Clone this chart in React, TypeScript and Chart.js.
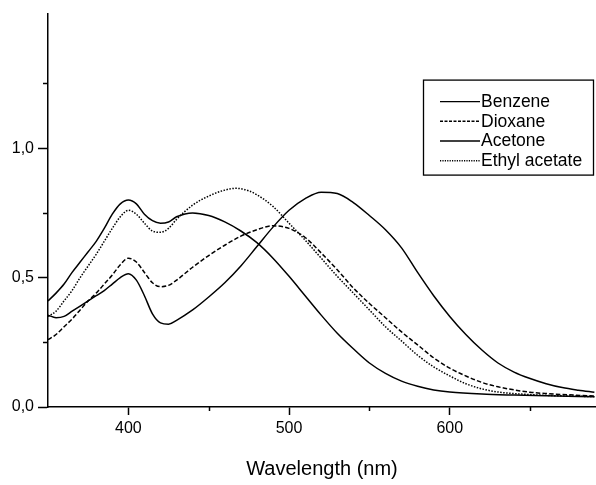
import React, { useEffect, useRef } from 'react';
import { Chart, registerables } from 'chart.js';

Chart.register(...registerables);

// ---- Data (wavelength in nm, absorbance) ----
const benzeneWl = [350, 355, 360, 365, 370, 375, 380, 385, 390, 395, 400, 405, 410, 415, 420, 425, 430, 440, 450, 460, 470, 480, 490, 500, 510, 520, 530, 540, 550, 560, 570, 580, 590, 600, 620, 640, 660, 690];
const benzene = [0.41, 0.44, 0.475, 0.52, 0.56, 0.60, 0.64, 0.69, 0.745, 0.785, 0.80, 0.785, 0.745, 0.72, 0.71, 0.715, 0.735, 0.75, 0.74, 0.715, 0.68, 0.635, 0.575, 0.505, 0.43, 0.355, 0.285, 0.225, 0.17, 0.13, 0.10, 0.08, 0.066, 0.058, 0.05, 0.046, 0.043, 0.04];

const dioxaneWl = [350, 355, 360, 365, 370, 375, 380, 385, 390, 395, 400, 405, 410, 415, 420, 425, 430, 440, 450, 460, 470, 480, 490, 500, 510, 520, 530, 540, 550, 560, 570, 580, 590, 600, 610, 620, 630, 640, 650, 660, 690];
const dioxane = [0.26, 0.28, 0.31, 0.34, 0.375, 0.41, 0.44, 0.475, 0.51, 0.55, 0.575, 0.56, 0.52, 0.48, 0.465, 0.47, 0.49, 0.54, 0.585, 0.625, 0.66, 0.685, 0.70, 0.69, 0.655, 0.595, 0.53, 0.46, 0.40, 0.345, 0.29, 0.24, 0.19, 0.15, 0.12, 0.095, 0.078, 0.066, 0.057, 0.052, 0.042];

const acetoneWl = [350, 355, 360, 365, 370, 375, 380, 385, 390, 395, 400, 405, 410, 415, 420, 425, 430, 440, 450, 460, 470, 480, 490, 500, 510, 520, 530, 540, 550, 560, 570, 580, 590, 600, 610, 620, 630, 640, 650, 660, 670, 680, 690];
const acetone = [0.355, 0.345, 0.35, 0.37, 0.39, 0.41, 0.43, 0.45, 0.475, 0.50, 0.515, 0.49, 0.43, 0.36, 0.325, 0.32, 0.335, 0.375, 0.425, 0.48, 0.545, 0.62, 0.695, 0.76, 0.805, 0.83, 0.825, 0.79, 0.74, 0.685, 0.615, 0.52, 0.43, 0.35, 0.28, 0.22, 0.17, 0.135, 0.11, 0.09, 0.075, 0.065, 0.057];

const ethylWl = [350, 355, 360, 365, 370, 375, 380, 385, 390, 395, 400, 405, 410, 415, 420, 425, 430, 440, 450, 460, 467, 475, 480, 490, 500, 510, 520, 530, 540, 550, 560, 570, 580, 590, 600, 610, 620, 630, 640, 660, 690];
const ethyl = [0.35, 0.37, 0.41, 0.45, 0.50, 0.545, 0.59, 0.64, 0.69, 0.735, 0.76, 0.745, 0.71, 0.68, 0.675, 0.69, 0.725, 0.78, 0.815, 0.838, 0.845, 0.835, 0.82, 0.775, 0.71, 0.645, 0.575, 0.505, 0.44, 0.375, 0.31, 0.255, 0.20, 0.155, 0.12, 0.09, 0.07, 0.058, 0.052, 0.045, 0.04];

const seriesNames = ['Benzene', 'Dioxane', 'Acetone', 'Ethyl acetate'];
const seriesDashes: number[][] = [[], [4.5, 2.2], [], [1.5, 1.5]];
const legendDashes: number[][] = [[], [3, 1.5], [], [1.2, 1.2]];

const xMajorTicks = [400, 500, 600];
const xMinorTicks = [450, 550, 650];
const yMajorTicks = [0, 0.5, 1.0];
const yMinorTicks = [0.25, 0.75, 1.25];

const X_MIN = 350;
const X_MAX = 691;
const Y_MIN = 0;
const Y_MAX = 1.52;

const FONT = "'Liberation Sans', Arial, Helvetica, sans-serif";

const toPoints = (xs: number[], ys: number[]) => xs.map((x, i) => ({ x, y: ys[i] }));

const decorPlugin = {
  id: 'decor',
  afterDraw(chart: any) {
    const ctx = chart.ctx as CanvasRenderingContext2D;
    const xs = chart.scales.x;
    const ys = chart.scales.y;
    ctx.save();
    ctx.strokeStyle = '#000';
    ctx.lineWidth = 1.5;
    // minor ticks (short)
    for (const v of xMinorTicks) {
      const px = Math.round(xs.getPixelForValue(v)) + 0.5;
      ctx.beginPath();
      ctx.moveTo(px, xs.top);
      ctx.lineTo(px, xs.top + 4);
      ctx.stroke();
    }
    for (const v of yMinorTicks) {
      const py = Math.round(ys.getPixelForValue(v)) + 0.5;
      ctx.beginPath();
      ctx.moveTo(ys.right - 5, py);
      ctx.lineTo(ys.right, py);
      ctx.stroke();
    }
    // legend box
    const area = chart.chartArea;
    const bx = area.right - 173;
    const by = area.top + 66;
    const bw = 170;
    const bh = 95;
    ctx.lineWidth = 1.3;
    ctx.strokeRect(bx + 0.5, by + 0.5, bw, bh);
    ctx.font = `17.5px ${FONT}`;
    ctx.fillStyle = '#000';
    ctx.textBaseline = 'middle';
    ctx.textAlign = 'left';
    seriesNames.forEach((name, i) => {
      const ly = by + 22 + i * 19.7;
      ctx.setLineDash(legendDashes[i]);
      ctx.lineWidth = 1.4;
      ctx.beginPath();
      ctx.moveTo(bx + 17, ly);
      ctx.lineTo(bx + 57, ly);
      ctx.stroke();
      ctx.setLineDash([]);
      ctx.fillText(name, bx + 58, ly + 0.5);
    });
    ctx.restore();
  },
};

export default function App() {
  const canvasRef = useRef<HTMLCanvasElement | null>(null);

  useEffect(() => {
    document.body.style.margin = '0';
    const canvas = canvasRef.current;
    if (!canvas) return;
    const datasetsRaw = [
      toPoints(benzeneWl, benzene),
      toPoints(dioxaneWl, dioxane),
      toPoints(acetoneWl, acetone),
      toPoints(ethylWl, ethyl),
    ];
    const chart = new Chart(canvas, {
      type: 'line',
      data: {
        datasets: datasetsRaw.map((pts, i) => ({
          label: seriesNames[i],
          data: pts,
          borderColor: '#000',
          backgroundColor: '#000',
          borderWidth: 1.5,
          borderDash: seriesDashes[i],
          pointRadius: 0,
          cubicInterpolationMode: 'monotone' as const,
          fill: false,
        })),
      },
      options: {
        animation: false,
        responsive: true,
        maintainAspectRatio: false,
        layout: { padding: { top: 12, left: 0, right: 0, bottom: 0 } },
        plugins: {
          legend: { display: false },
          tooltip: { enabled: false },
        },
        scales: {
          x: {
            type: 'linear',
            min: X_MIN,
            max: X_MAX,
            afterBuildTicks: (s: any) => {
              s.ticks = xMajorTicks.map((v) => ({ value: v }));
            },
            afterFit: (s: any) => {
              s.height = 78;
            },
            border: { display: true, color: '#000', width: 1.5 },
            grid: {
              display: true,
              drawOnChartArea: false,
              drawTicks: true,
              tickLength: 8,
              tickWidth: 1.5,
              tickColor: '#000',
            },
            ticks: {
              autoSkip: false,
              maxRotation: 0,
              padding: 4,
              color: '#000',
              font: { family: FONT, size: 16 },
              callback: (v: any) => String(v),
            },
            title: {
              display: true,
              text: 'Wavelength (nm)',
              color: '#000',
              font: { family: FONT, size: 20 },
              padding: { top: 0, bottom: 4 },
            },
          },
          y: {
            type: 'linear',
            min: Y_MIN,
            max: Y_MAX,
            afterBuildTicks: (s: any) => {
              s.ticks = yMajorTicks.map((v) => ({ value: v }));
            },
            afterFit: (s: any) => {
              s.width = 48;
            },
            border: { display: true, color: '#000', width: 1.5 },
            grid: {
              display: true,
              drawOnChartArea: false,
              drawTicks: true,
              tickLength: 10,
              tickWidth: 1.5,
              tickColor: '#000',
            },
            ticks: {
              padding: 4,
              color: '#000',
              font: { family: FONT, size: 16 },
              callback: (v: any) => Number(v).toFixed(1).replace('.', ','),
            },
          },
        },
      },
      plugins: [decorPlugin],
    });
    return () => chart.destroy();
  }, []);

  return (
    <div style={{ width: 596, height: 485, position: 'relative', background: '#fff' }}>
      <canvas ref={canvasRef} />
    </div>
  );
}
